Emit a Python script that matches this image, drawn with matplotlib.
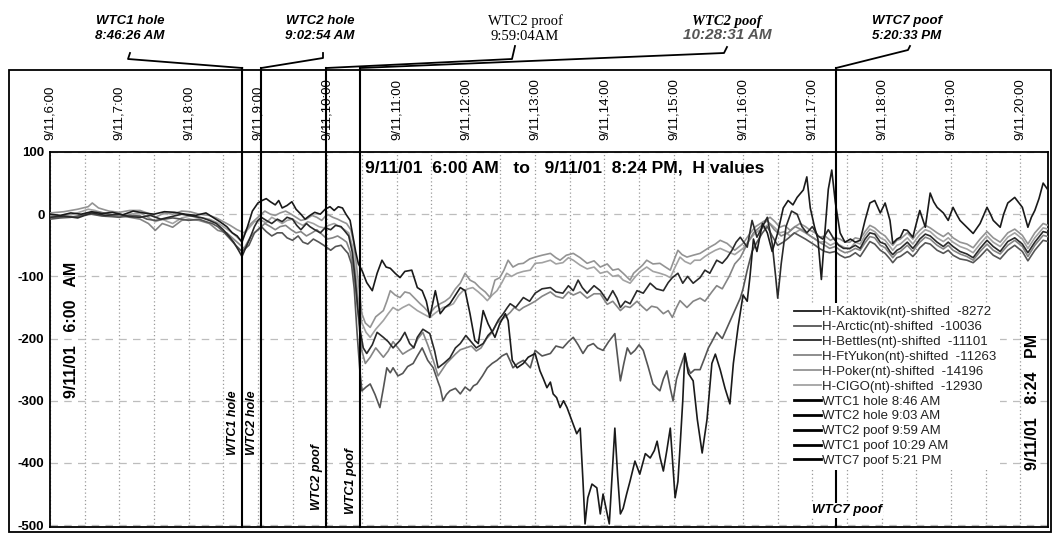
import matplotlib
matplotlib.use("Agg")
import matplotlib.pyplot as plt
from matplotlib.lines import Line2D
from matplotlib.patches import Rectangle

plt.rcParams["font.family"] = ["Liberation Sans", "DejaVu Sans"]
plt.rcParams["axes.unicode_minus"] = False

# ---- data: (hour of day, H value in nT) ----
kaktovik = [
    (6.00, 0), (6.15, -2), (6.30, 2), (6.45, 0), (6.60, 4), (6.75, 1), (6.90, 3), (7.05, -1),
    (7.20, 5), (7.35, 2), (7.50, 0), (7.65, 4), (7.80, 3), (7.95, 0), (8.10, -2), (8.25, 2),
    (8.35, -5), (8.45, -12), (8.55, -20), (8.63, -30), (8.70, -35), (8.77, -45), (8.85, -20),
    (8.92, 5), (9.00, 18), (9.06, 22), (9.12, 25), (9.18, 20), (9.25, 15), (9.30, 22), (9.35, 10),
    (9.42, 14), (9.49, 20), (9.55, 8), (9.62, 0), (9.68, -8), (9.75, -2), (9.82, 3), (9.90, 0),
    (9.97, 8), (10.04, 12), (10.10, 6), (10.16, 12), (10.22, 10), (10.27, 0), (10.33, -10),
    (10.37, -35), (10.41, -60), (10.45, -80), (10.50, -90), (10.57, -110), (10.65, -123),
    (10.72, -95), (10.79, -74), (10.85, -85), (10.91, -87), (10.98, -95), (11.05, -102),
    (11.12, -92), (11.22, -90), (11.30, -118), (11.37, -123), (11.43, -140), (11.48, -166),
    (11.56, -123), (11.63, -160), (11.70, -150), (11.77, -144), (11.85, -130), (11.92, -118),
    (11.99, -123), (12.06, -160), (12.13, -203), (12.18, -208), (12.25, -155), (12.32, -176),
    (12.42, -198), (12.49, -176), (12.57, -160), (12.61, -171), (12.67, -235), (12.74, -247),
    (12.83, -240), (12.90, -230), (13.00, -224), (13.07, -252), (13.12, -265), (13.17, -279),
    (13.22, -270), (13.26, -289), (13.31, -295), (13.36, -311), (13.41, -300), (13.46, -311),
    (13.53, -332), (13.60, -353), (13.65, -344), (13.69, -429), (13.72, -498), (13.76, -456),
    (13.82, -434), (13.89, -440), (13.94, -482), (13.98, -450), (14.04, -482), (14.07, -498),
    (14.11, -420), (14.15, -344), (14.19, -420), (14.23, -482), (14.27, -473), (14.32, -450),
    (14.37, -429), (14.44, -397), (14.51, -418), (14.59, -385), (14.66, -392), (14.72, -380),
    (14.76, -365), (14.80, -390), (14.85, -413), (14.90, -380), (14.95, -344), (15.02, -456),
    (15.06, -430), (15.09, -376), (15.13, -300), (15.16, -224), (15.21, -256), (15.28, -268),
    (15.34, -330), (15.41, -384), (15.48, -330), (15.55, -240), (15.60, -225), (15.67, -250),
    (15.74, -280), (15.81, -305), (15.86, -240), (15.93, -180), (16.00, -130), (16.06, -140),
    (16.10, -100), (16.15, -40), (16.20, -60), (16.28, -15), (16.35, -30), (16.42, -60),
    (16.50, -30), (16.58, 10), (16.65, 22), (16.72, 15), (16.78, 27), (16.87, 39), (16.92, 60),
    (16.97, 10), (17.03, -20), (17.08, -40), (17.13, -105), (17.18, -30), (17.23, 40),
    (17.28, 71), (17.33, 20), (17.40, -30), (17.47, -45), (17.55, -40), (17.62, -45),
    (17.69, -42), (17.76, -10), (17.83, 18), (17.90, 22), (17.98, 2), (18.05, 18), (18.12, -10),
    (18.16, -47), (18.22, -40), (18.27, -37), (18.32, -25), (18.37, -26), (18.45, -37),
    (18.50, -15), (18.55, 6), (18.63, -21), (18.70, 34), (18.75, 20), (18.80, 11), (18.89, 2),
    (18.96, -10), (19.03, 11), (19.08, 0), (19.13, -10), (19.23, -21), (19.32, -31), (19.42, -15),
    (19.52, 11), (19.57, 0), (19.61, -10), (19.71, -21), (19.76, 0), (19.82, 18), (19.92, 27),
    (20.03, 11), (20.11, -21), (20.16, -5), (20.21, 6), (20.27, 25), (20.33, 50), (20.40, 39),
]

bettles = [
    (6.00, -5), (6.20, -3), (6.40, -6), (6.60, 2), (6.80, -2), (7.00, 0), (7.15, -4), (7.30, -5),
    (7.45, -2), (7.60, -8), (7.75, -4), (7.90, 0), (8.05, -3), (8.20, -6), (8.30, -10),
    (8.40, -15), (8.50, -25), (8.58, -35), (8.65, -45), (8.72, -58), (8.77, -68), (8.82, -55),
    (8.88, -40), (8.95, -20), (9.00, -10), (9.05, -5), (9.12, -10), (9.20, -15), (9.28, -8),
    (9.35, -12), (9.42, -5), (9.50, -8), (9.56, -18), (9.62, -25), (9.70, -15), (9.75, -20),
    (9.82, -25), (9.90, -30), (9.97, -22), (10.05, -25), (10.12, -18), (10.20, -20),
    (10.26, -28), (10.31, -35), (10.36, -60), (10.40, -100), (10.44, -150), (10.48, -190),
    (10.52, -215), (10.57, -224), (10.65, -210), (10.72, -190), (10.81, -198), (10.88, -205),
    (10.95, -215), (11.05, -203), (11.12, -190), (11.19, -208), (11.25, -215), (11.30, -198),
    (11.38, -185), (11.48, -192), (11.55, -220), (11.60, -247), (11.68, -240), (11.77, -231),
    (11.85, -215), (11.92, -208), (12.00, -195), (12.06, -203), (12.15, -215), (12.25, -208),
    (12.32, -195), (12.39, -187), (12.47, -170), (12.54, -160), (12.60, -150), (12.64, -144),
    (12.72, -150), (12.83, -134), (12.92, -140), (13.00, -127), (13.10, -120), (13.22, -118),
    (13.30, -125), (13.40, -127), (13.48, -115), (13.55, -123), (13.62, -106), (13.68, -118),
    (13.75, -127), (13.85, -115), (13.94, -123), (14.04, -139), (14.12, -123), (14.18, -135),
    (14.23, -150), (14.30, -140), (14.37, -144), (14.47, -123), (14.56, -127), (14.66, -111),
    (14.75, -120), (14.85, -123), (14.92, -110), (14.98, -102), (15.06, -95), (15.13, -111),
    (15.20, -100), (15.28, -111), (15.38, -102), (15.45, -90), (15.52, -95), (15.62, -74),
    (15.70, -79), (15.77, -70), (15.84, -58), (15.90, -45), (15.96, -37), (16.06, -53),
    (16.13, -10), (16.20, -37), (16.28, -20), (16.35, -5), (16.42, -47), (16.47, -100),
    (16.50, -135), (16.55, -80), (16.62, -20), (16.70, 5), (16.78, 0), (16.85, -20),
    (16.92, -30), (17.00, -20), (17.08, -35), (17.15, -40), (17.23, -25), (17.30, -38),
    (17.38, -50), (17.45, -55), (17.54, -55), (17.62, -50), (17.69, -55), (17.76, -40),
    (17.83, -30), (17.90, -32), (17.98, -45), (18.05, -48), (18.12, -60), (18.16, -65),
    (18.22, -58), (18.27, -55), (18.37, -45), (18.45, -55), (18.50, -48), (18.55, -40),
    (18.63, -32), (18.70, -35), (18.80, -45), (18.89, -52), (18.96, -45), (19.03, -52),
    (19.13, -60), (19.23, -64), (19.32, -70), (19.42, -55), (19.52, -42), (19.61, -52),
    (19.71, -60), (19.82, -44), (19.92, -38), (20.03, -48), (20.11, -62), (20.21, -45),
    (20.33, -28), (20.40, -30),
]

poker = [
    (6.00, 2), (6.20, 4), (6.40, 8), (6.55, 12), (6.61, 18), (6.70, 10), (6.85, 5), (7.00, 3),
    (7.15, 6), (7.30, 6), (7.45, 0), (7.52, -5), (7.65, 2), (7.77, 0), (7.90, 5), (8.02, 4),
    (8.15, 0), (8.30, -2), (8.40, -6), (8.50, -12), (8.60, -18), (8.70, -25), (8.80, -30),
    (8.90, -15), (9.00, -5), (9.10, 5), (9.18, 0), (9.25, -2), (9.32, 2), (9.40, 5), (9.48, 0),
    (9.55, -5), (9.62, -10), (9.70, -8), (9.78, -2), (9.85, -5), (9.92, -10), (10.00, 0),
    (10.08, -5), (10.15, -8), (10.22, -12), (10.28, -15), (10.34, -25), (10.38, -45),
    (10.42, -80), (10.46, -120), (10.50, -160), (10.55, -175), (10.62, -182), (10.70, -165),
    (10.81, -155), (10.86, -140), (10.91, -123), (10.98, -130), (11.05, -134), (11.12, -125),
    (11.19, -127), (11.26, -135), (11.34, -144), (11.40, -150), (11.48, -160), (11.55, -150),
    (11.63, -144), (11.70, -140), (11.77, -134), (11.85, -120), (11.92, -111), (11.99, -95),
    (12.06, -106), (12.13, -110), (12.20, -118), (12.28, -125), (12.35, -134), (12.42, -106),
    (12.49, -102), (12.55, -90), (12.61, -74), (12.68, -85), (12.76, -80), (12.83, -79),
    (12.92, -72), (13.00, -69), (13.10, -66), (13.22, -63), (13.30, -70), (13.36, -74),
    (13.45, -66), (13.55, -63), (13.65, -70), (13.75, -79), (13.85, -75), (13.94, -85),
    (14.04, -80), (14.12, -90), (14.20, -88), (14.27, -95), (14.37, -106), (14.42, -95),
    (14.47, -90), (14.55, -82), (14.61, -74), (14.70, -80), (14.80, -79), (14.88, -85),
    (14.95, -90), (15.00, -75), (15.06, -58), (15.12, -65), (15.19, -69), (15.28, -66),
    (15.38, -63), (15.45, -58), (15.52, -53), (15.60, -48), (15.67, -42), (15.77, -47),
    (15.88, -58), (16.00, -47), (16.10, -31), (16.18, -20), (16.25, -15), (16.32, -10),
    (16.39, -5), (16.46, -12), (16.53, -21), (16.60, -18), (16.68, -26), (16.75, -20),
    (16.82, -15), (16.90, -20), (16.97, -26), (17.04, -30), (17.11, -37), (17.18, -35),
    (17.26, -42), (17.33, -38), (17.40, -40), (17.47, -45), (17.54, -45), (17.62, -38),
    (17.69, -40), (17.76, -28), (17.83, -18), (17.90, -22), (17.98, -30), (18.05, -35),
    (18.12, -45), (18.16, -50), (18.22, -42), (18.27, -40), (18.37, -30), (18.45, -40),
    (18.50, -32), (18.55, -26), (18.63, -18), (18.70, -22), (18.80, -30), (18.89, -36),
    (18.96, -30), (19.03, -38), (19.13, -45), (19.23, -48), (19.32, -54), (19.42, -40),
    (19.52, -28), (19.61, -38), (19.71, -45), (19.82, -30), (19.92, -24), (20.03, -34),
    (20.11, -48), (20.21, -30), (20.33, -15), (20.40, -18),
]

cigo = [
    (6.00, -3), (6.15, -2), (6.30, -1), (6.45, 4), (6.55, 8), (6.65, 6), (6.80, 0), (7.00, -4),
    (7.15, 0), (7.30, 2), (7.40, -4), (7.52, -12), (7.62, -8), (7.70, -12), (7.77, -15),
    (7.90, -6), (8.02, -3), (8.15, -5), (8.30, -8), (8.42, -14), (8.50, -20), (8.63, -30),
    (8.75, -42), (8.85, -25), (8.95, -12), (9.05, -10), (9.12, -14), (9.20, -5), (9.28, -10),
    (9.35, -15), (9.42, -10), (9.50, -8), (9.58, -14), (9.65, -18), (9.72, -12), (9.80, -15),
    (9.88, -20), (9.95, -22), (10.02, -18), (10.10, -15), (10.18, -20), (10.25, -25),
    (10.31, -30), (10.36, -50), (10.40, -85), (10.45, -140), (10.50, -175), (10.56, -190),
    (10.62, -198), (10.70, -185), (10.81, -171), (10.88, -160), (10.95, -150), (11.02, -155),
    (11.09, -150), (11.18, -145), (11.30, -155), (11.38, -160), (11.48, -166), (11.57, -158),
    (11.67, -150), (11.75, -148), (11.82, -144), (11.90, -130), (11.96, -123), (12.03, -120),
    (12.10, -118), (12.18, -125), (12.25, -132), (12.31, -139), (12.38, -130), (12.45, -123),
    (12.52, -110), (12.59, -95), (12.66, -100), (12.74, -95), (12.83, -92), (12.93, -90),
    (13.00, -79), (13.10, -78), (13.22, -74), (13.30, -80), (13.40, -78), (13.48, -70),
    (13.55, -74), (13.65, -82), (13.75, -88), (13.85, -85), (13.94, -95), (14.04, -92),
    (14.12, -100), (14.20, -98), (14.27, -106), (14.37, -111), (14.45, -100), (14.52, -92),
    (14.61, -85), (14.70, -92), (14.80, -95), (14.88, -98), (14.95, -102), (15.02, -85),
    (15.09, -69), (15.16, -76), (15.24, -80), (15.30, -74), (15.38, -74), (15.45, -68),
    (15.52, -63), (15.60, -58), (15.67, -55), (15.77, -60), (15.88, -65), (16.00, -55),
    (16.10, -40), (16.18, -30), (16.25, -25), (16.32, -20), (16.39, -15), (16.46, -22),
    (16.53, -30), (16.60, -28), (16.68, -35), (16.75, -30), (16.82, -25), (16.90, -30),
    (16.97, -35), (17.04, -40), (17.11, -45), (17.18, -44), (17.26, -50), (17.33, -46),
    (17.40, -50), (17.47, -54), (17.54, -56), (17.62, -45), (17.69, -48), (17.76, -34),
    (17.83, -24), (17.90, -28), (17.98, -38), (18.05, -42), (18.12, -52), (18.16, -58),
    (18.22, -50), (18.27, -48), (18.37, -38), (18.45, -48), (18.50, -40), (18.55, -33),
    (18.63, -25), (18.70, -28), (18.80, -38), (18.89, -44), (18.96, -38), (19.03, -45),
    (19.13, -52), (19.23, -56), (19.32, -62), (19.42, -48), (19.52, -35), (19.61, -45),
    (19.71, -52), (19.82, -37), (19.92, -30), (20.03, -40), (20.11, -55), (20.21, -38),
    (20.33, -22), (20.40, -24),
]

ftyukon = [
    (6.00, -5), (6.20, -4), (6.40, -4), (6.55, 2), (6.70, 4), (6.85, 0), (7.00, -3), (7.15, -5),
    (7.30, -8), (7.42, -15), (7.52, -26), (7.62, -15), (7.70, -18), (7.77, -21), (7.90, -10),
    (8.00, -8), (8.15, -10), (8.30, -15), (8.42, -26), (8.55, -30), (8.63, -38), (8.70, -45),
    (8.80, -55), (8.90, -35), (9.00, -25), (9.10, -15), (9.18, -20), (9.25, -25), (9.32, -20),
    (9.40, -18), (9.48, -25), (9.55, -30), (9.62, -28), (9.70, -35), (9.78, -30), (9.85, -25),
    (9.92, -32), (10.00, -40), (10.08, -38), (10.15, -35), (10.22, -40), (10.28, -45),
    (10.33, -60), (10.38, -90), (10.42, -130), (10.46, -180), (10.50, -220), (10.55, -240),
    (10.62, -230), (10.70, -215), (10.81, -230), (10.88, -220), (10.95, -205), (11.02, -215),
    (11.09, -225), (11.16, -220), (11.24, -215), (11.31, -200), (11.38, -190), (11.45, -210),
    (11.53, -235), (11.60, -260), (11.66, -250), (11.72, -240), (11.79, -232), (11.85, -225),
    (11.92, -218), (12.00, -215), (12.08, -212), (12.15, -220), (12.22, -215), (12.30, -200),
    (12.38, -190), (12.45, -175), (12.51, -170), (12.57, -165), (12.64, -158), (12.70, -150),
    (12.77, -155), (12.83, -150), (12.92, -145), (13.00, -140), (13.10, -132), (13.22, -125),
    (13.30, -132), (13.40, -135), (13.48, -125), (13.55, -130), (13.65, -125), (13.75, -135),
    (13.85, -128), (13.94, -128), (14.04, -145), (14.12, -140), (14.23, -155), (14.30, -148),
    (14.37, -150), (14.47, -140), (14.54, -148), (14.61, -155), (14.68, -148), (14.76, -150),
    (14.85, -160), (14.92, -155), (14.98, -166), (15.04, -150), (15.09, -139), (15.19, -150),
    (15.28, -140), (15.38, -135), (15.45, -140), (15.55, -125), (15.62, -115), (15.70, -120),
    (15.80, -100), (15.88, -80), (15.96, -70), (16.05, -50), (16.15, -30), (16.25, -20),
    (16.35, -10), (16.45, -25), (16.55, -35), (16.65, -30), (16.75, -20), (16.85, -25),
    (16.97, -35), (17.04, -40), (17.10, -45), (17.18, -50), (17.25, -55), (17.33, -52),
    (17.40, -58), (17.47, -62), (17.54, -60), (17.62, -55), (17.69, -58), (17.76, -46),
    (17.83, -36), (17.90, -38), (17.98, -50), (18.05, -54), (18.12, -64), (18.16, -70),
    (18.22, -62), (18.27, -60), (18.37, -50), (18.45, -60), (18.50, -52), (18.55, -45),
    (18.63, -37), (18.70, -40), (18.80, -50), (18.89, -56), (18.96, -50), (19.03, -58),
    (19.13, -64), (19.23, -68), (19.32, -74), (19.42, -60), (19.52, -48), (19.61, -58),
    (19.71, -64), (19.82, -50), (19.92, -42), (20.03, -52), (20.11, -68), (20.21, -50),
    (20.33, -34), (20.40, -36),
]

arctic = [
    (6.00, -8), (6.15, -6), (6.30, -5), (6.45, -2), (6.60, 0), (6.75, -3), (6.90, -4), (7.00, -5),
    (7.15, -2), (7.30, -3), (7.40, -8), (7.52, -10), (7.65, -8), (7.77, -6), (7.90, -8),
    (8.00, -10), (8.15, -8), (8.25, -12), (8.34, -15), (8.42, -20), (8.50, -28), (8.60, -40),
    (8.68, -50), (8.77, -60), (8.87, -50), (8.95, -30), (9.05, -20), (9.12, -28), (9.20, -35),
    (9.28, -30), (9.35, -30), (9.42, -38), (9.50, -42), (9.58, -35), (9.65, -45), (9.72, -48),
    (9.80, -40), (9.88, -45), (9.95, -50), (10.05, -58), (10.12, -52), (10.20, -50),
    (10.26, -58), (10.30, -63), (10.35, -80), (10.39, -120), (10.43, -190), (10.47, -250),
    (10.50, -284), (10.56, -278), (10.62, -273), (10.69, -290), (10.76, -311), (10.81, -280),
    (10.86, -247), (10.91, -255), (10.95, -247), (11.02, -260), (11.09, -256), (11.16, -245),
    (11.24, -240), (11.30, -228), (11.37, -215), (11.45, -235), (11.53, -247), (11.60, -270),
    (11.63, -279), (11.67, -300), (11.72, -290), (11.77, -284), (11.85, -280), (11.92, -289),
    (11.99, -278), (12.06, -284), (12.11, -276), (12.16, -273), (12.24, -260), (12.31, -247),
    (12.38, -240), (12.45, -235), (12.52, -228), (12.59, -224), (12.64, -236), (12.68, -247),
    (12.75, -240), (12.83, -235), (12.93, -247), (13.00, -219), (13.10, -228), (13.22, -224),
    (13.30, -212), (13.40, -215), (13.48, -205), (13.55, -198), (13.62, -210), (13.69, -224),
    (13.76, -212), (13.84, -208), (13.90, -215), (13.98, -219), (14.06, -205), (14.15, -192),
    (14.20, -240), (14.23, -268), (14.28, -240), (14.33, -215), (14.38, -225), (14.44, -219),
    (14.50, -210), (14.56, -219), (14.63, -245), (14.70, -273), (14.76, -280), (14.80, -284),
    (14.85, -265), (14.90, -252), (14.95, -280), (14.99, -300), (15.04, -265), (15.09, -247),
    (15.16, -224), (15.20, -245), (15.24, -256), (15.30, -250), (15.38, -250), (15.45, -230),
    (15.50, -215), (15.55, -205), (15.62, -190), (15.70, -200), (15.76, -185), (15.80, -175),
    (15.86, -160), (15.90, -150), (15.96, -135), (16.00, -120), (16.06, -90), (16.13, -60),
    (16.20, -45), (16.28, -30), (16.35, -20), (16.42, -35), (16.50, -50), (16.58, -45),
    (16.66, -38), (16.74, -30), (16.82, -35), (16.90, -40), (16.97, -45), (17.04, -50),
    (17.10, -55), (17.18, -60), (17.25, -62), (17.33, -60), (17.40, -66), (17.47, -70),
    (17.54, -68), (17.62, -62), (17.69, -68), (17.76, -56), (17.83, -44), (17.90, -48),
    (17.98, -58), (18.05, -63), (18.12, -72), (18.16, -78), (18.22, -70), (18.27, -68),
    (18.37, -60), (18.45, -68), (18.50, -62), (18.55, -54), (18.63, -46), (18.70, -48),
    (18.80, -58), (18.89, -63), (18.96, -58), (19.03, -66), (19.13, -72), (19.23, -74),
    (19.32, -78), (19.42, -68), (19.52, -56), (19.61, -66), (19.71, -72), (19.82, -58),
    (19.92, -50), (20.03, -60), (20.11, -75), (20.21, -58), (20.33, -42), (20.40, -44),
]

station_labels = [
    "H-Kaktovik(nt)-shifted  -8272",
    "H-Arctic(nt)-shifted  -10036",
    "H-Bettles(nt)-shifted  -11101",
    "H-FtYukon(nt)-shifted  -11263",
    "H-Poker(nt)-shifted  -14196",
    "H-CIGO(nt)-shifted  -12930",
]
station_series = [kaktovik, arctic, bettles, ftyukon, poker, cigo]
station_colors = ["#1a1a1a", "#555555", "#2a2a2a", "#858585", "#939393", "#a2a2a2"]

event_labels = ["WTC1 hole 8:46 AM", "WTC2 hole 9:03 AM", "WTC2 poof 9:59 AM",
                "WTC1 poof 10:29 AM", "WTC7 poof 5:21 PM"]
event_clock = ["8:46:26", "9:02:54", "9:59:04", "10:28:31", "17:20:33"]
event_short = ["WTC1 hole", "WTC2 hole", "WTC2 poof", "WTC1 poof", "WTC7 poof"]

hours = list(range(6, 21))
y_ticks = [100, 0, -100, -200, -300, -400, -500]


def clock_to_hours(s):
    h, m, sec = (int(p) for p in s.split(":"))
    return h + m / 60 + sec / 3600


event_times = [clock_to_hours(s) for s in event_clock]

# ---- figure layout, in pixels of the 1062x541 output ----
W, H = 1062, 541
X0, X1, Y_TOP, Y_BOT = 50, 1048, 152, 527
T0, T1 = 6.0, 20.4


def fx(px):
    return px / W


def fy(py):
    return 1 - py / H


def t_px(t):
    return X0 + (t - T0) * (X1 - X0) / (T1 - T0)


fig = plt.figure(figsize=(W / 100, H / 100), dpi=100)
ax = fig.add_axes([fx(X0), fy(Y_BOT), (X1 - X0) / W, (Y_BOT - Y_TOP) / H])

# lighter stations first so the dark ones sit on top
draw_order = [5, 4, 3, 1, 2, 0]
for i in draw_order:
    t, v = zip(*station_series[i])
    ax.plot(t, v, color=station_colors[i], lw=1.2, zorder=3)

ax.set_xlim(T0, T1)
ax.set_ylim(-503, 100)

# top extension of the event lines reaches the outer frame (y = 68 px)
ext = 1 + (Y_TOP - 68) / (Y_BOT - Y_TOP)
for t in event_times:
    ax.axvline(t, ymin=0, ymax=ext, color="black", lw=1.5, clip_on=False, zorder=4)

ax.set_xticks(hours)
ax.set_xticklabels([f"9/11,{h}:00" for h in hours])
ax.set_xticks([h + 0.5 for h in hours[:-1]], minor=True)
ax.xaxis.tick_top()
ax.tick_params(axis="x", which="both", length=0, pad=9, labelsize=9.5, labelrotation=90)
ax.set_yticks(y_ticks)
ax.set_yticklabels([str(v) for v in y_ticks])
ax.tick_params(axis="y", length=0, pad=4, labelsize=9.5)
for lbl in ax.get_yticklabels():
    lbl.set_fontweight("bold")

ax.grid(axis="x", which="both", color="#9a9a9a", ls=(0, (1, 2)), lw=0.9, zorder=1)
ax.grid(axis="y", color="#bdbdbd", ls=(0, (6, 5)), lw=0.9, zorder=1)
for s in ax.spines.values():
    s.set_linewidth(1.3)

# texts inside the plot
ax.text(10.545, 74, "9/11/01  6:00 AM   to   9/11/01  8:24 PM,  H values",
        fontsize=12.6, fontweight="bold", ha="left", va="center", zorder=6)
ax.text(6.317, -186, "9/11/01   6:00   AM", rotation=90, fontsize=11.5, fontweight="bold",
        ha="center", va="center")
ax.text(20.17, -302, "9/11/01   8:24   PM", rotation=90, fontsize=11.5, fontweight="bold",
        ha="center", va="center")
label_y = [-336, -336, -423, -429]
for t, name, yv in zip(event_times[:4], event_short[:4], label_y):
    ax.annotate(name, xy=(t, yv), xytext=(-2, 0), textcoords="offset points",
                rotation=90, ha="right", va="center", fontsize=9,
                fontweight="bold", style="italic")
ax.text(17.50, -476, event_short[4], fontsize=9.5, fontweight="bold", style="italic",
        ha="center", va="center", zorder=6,
        bbox=dict(facecolor="white", edgecolor="none", pad=1))

# legend
handles = [Line2D([], [], color=c, lw=1.3) for c in station_colors]
handles += [Line2D([], [], color="black", lw=2.0) for _ in event_labels]
leg = ax.legend(handles, station_labels + event_labels, loc="upper left",
                bbox_to_anchor=(0.7425, 0.598), fontsize=9.5, frameon=True,
                facecolor="white", edgecolor="none", framealpha=1,
                handlelength=2.0, handletextpad=0.1, labelspacing=0.2,
                borderpad=0.25, borderaxespad=0)
leg.set_zorder(5)
for txt in leg.get_texts():
    txt.set_color("#222222")

# outer frame around plot and tick band
fig.add_artist(Rectangle((fx(9), fy(532)), (1051 - 9) / W, (532 - 70) / H,
                         transform=fig.transFigure, fill=False, lw=1.3, ec="black"))

# callouts above the chart
callouts = [
    (130, "WTC1 hole", "8:46:26 AM", "sans", [(130, 53), (128, 59)], 0),
    (320, "WTC2 hole", "9:02:54 AM", "sans", [(323, 53), (323, 58)], 1),
    (525, "WTC2 proof", "9:59:04AM", "serif", [(515, 46), (512, 59)], 2),
    (727, "WTC2 poof", "10:28:31 AM", "mixed", [(727, 47), (724, 53)], 3),
    (907, "WTC7 poof", "5:20:33 PM", "sans", [(910, 46), (908, 50)], 4),
]
for cx, top, bottom, kind, path, ei in callouts:
    if kind == "serif":
        fig.text(fx(cx), fy(21), top, family="Liberation Serif", fontsize=10.5,
                 ha="center", va="center")
        fig.text(fx(cx), fy(37), bottom, family="Liberation Serif", fontsize=10.5,
                 ha="center", va="center")
    elif kind == "mixed":
        fig.text(fx(cx), fy(21), top, family="Liberation Serif", fontsize=10.5,
                 fontweight="bold", style="italic", ha="center", va="center")
        fig.text(fx(cx), fy(35), bottom, fontsize=11, fontweight="bold", style="italic",
                 color="#555555", ha="center", va="center")
    else:
        fig.text(fx(cx), fy(21), top, fontsize=9.5, fontweight="bold", style="italic",
                 ha="center", va="center")
        fig.text(fx(cx), fy(36), bottom, fontsize=9.5, fontweight="bold", style="italic",
                 ha="center", va="center")
    pts = path + [(t_px(event_times[ei]), 68)]
    fig.add_artist(Line2D([fx(p[0]) for p in pts], [fy(p[1]) for p in pts],
                          transform=fig.transFigure, color="black", lw=1.3))

fig.savefig("out.png", dpi=100)
